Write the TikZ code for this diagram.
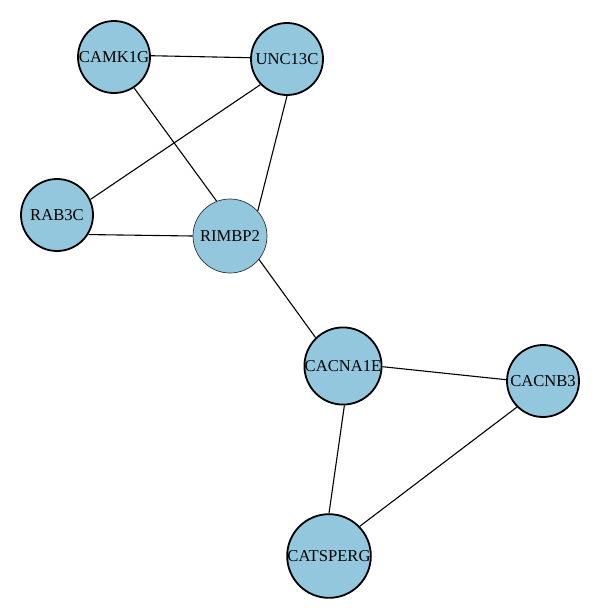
\documentclass[tikz,border=0pt]{standalone}
\usepackage{fontspec}
\setmainfont{Liberation Serif}
\definecolor{nodeblue}{RGB}{146,199,222}
\begin{document}
\begin{tikzpicture}[x=1pt,y=-1pt,
  gene/.style={circle,draw=black,line width=1.8pt,fill=nodeblue,minimum size=72pt,inner sep=0pt,font=\fontsize{16.6}{18}\selectfont},
  thin gene/.style={gene,line width=0.7pt,draw=black!80,minimum size=74pt},
  link/.style={draw=black,line width=1.1pt}]
\useasboundingbox (0,0) rectangle (600,614);
\fill[white] (0,0) rectangle (600,614);
\node[gene] (camk) at (114,57) {CAMK1G};
\node[gene] (unc) at (287,59) {UNC13C};
\node[gene] (rab) at (57,215) {RAB3C};
\node[thin gene] (rim) at (230,236) {RIMBP2};
\node[gene] (cna) at (343,366) {CACNA1E};
\node[gene] (cnb) at (543,381) {CACNB3};
\node[gene] (cat) at (329,556) {CATSPERG};
\draw[link] (camk.2) -- (unc.178);
\draw[link] (camk.-57) -- (rim.111);
\draw[link] (unc.-136) -- (rab.25);
\draw[link] (unc.-90) -- (rim.42);
\draw[link] (rab.-32) -- (rim.180);
\draw[link] (rim.-39) -- (cna.134);
\draw[link] (cna.-1) -- (cnb.178);
\draw[link] (cna.-88) -- (cat.90);
\draw[link] (cnb.-135) -- (cat.44);
\end{tikzpicture}
\end{document}
